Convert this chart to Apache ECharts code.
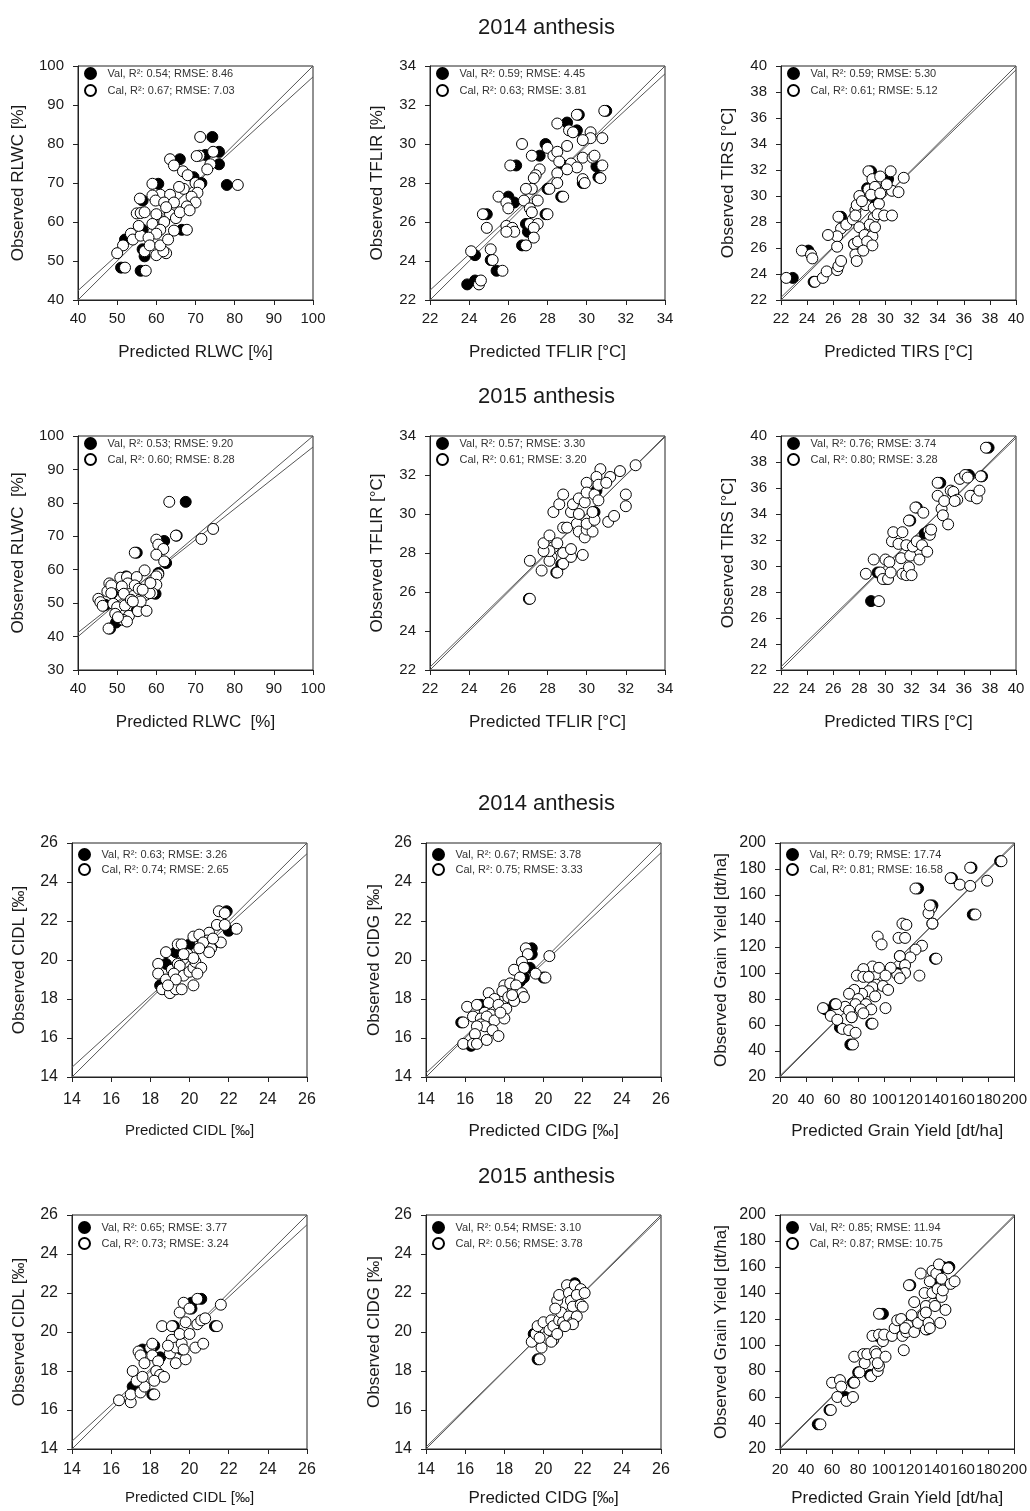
<!DOCTYPE html>
<html>
<head>
<meta charset="utf-8">
<title>Predicted vs observed traits, anthesis 2014 / 2015</title>
<script src="https://cdn.jsdelivr.net/npm/echarts@6/dist/echarts.min.js"></script>
<style>
  html, body { margin: 0; padding: 0; background: #fff; }
  #chart { width: 1030px; height: 1511px; }
</style>
</head>
<body>
<div id="chart"></div>
<script>
// all points are [predicted, observed]

// --- RLWC 2014 ---
const rlwc14Val = [[74.3,81.8],[76,78],[72.5,77.2],[66,76.1],[76,74.8],[78,69.5],[60.5,69.8],[56.5,65.5],[66.5,58],[56.5,58],[52,55.5],[56.5,53],[57,51.2],[51,48.3],[56,47.5],[69.5,71.5],[71.5,70]]
const rlwc14Cal = [[71.2,81.8],[74.5,78],[71,77],[70.3,76.9],[63.5,76.1],[64.5,74.5],[73.8,74.8],[73,73.5],[66.8,73],[68,72],[70,70],[71,69.5],[80.8,69.5],[59,69.8],[67,68.5],[65.8,69],[70.5,67.5],[69,66.5],[55.8,66],[61,67],[59,66.8],[63.5,67],[59.8,65.5],[62,65],[64.5,65],[70,65],[67.8,64],[55,62.2],[56,62.3],[57,62.5],[60,62],[63.5,62],[65,61],[62,60],[59,59.5],[67.8,58],[64.5,57.8],[61,58],[60,57],[53.5,57],[54,55.5],[56,56.5],[58,56],[51.5,54],[50,52],[57,52.5],[60,51.5],[62.5,52],[61.8,52.5],[58.3,54],[61,54],[52,48.3],[57.3,47.5],[55.5,59],[63,55.5],[66,62.5],[68.5,63],[62.5,63.8]]
const rlwc14Fit = [[40,42.4],[100,97.2]]
const rlwc14Diag = [[40,40],[100,100]]

// --- TFLIR 2014 ---
const tflir14Val = [[31,31.7],[29.6,31.5],[29,31.1],[29.5,30.7],[27.9,30],[27.6,29.4],[28.8,28.9],[30.5,28.85],[26.4,28.9],[29.8,28],[30.6,28.3],[28,27.7],[26,27.3],[26.3,27],[28.7,27.3],[24.9,26.4],[27.9,26.4],[26.9,25.9],[27,25.5],[26.7,24.8],[24.3,24.3],[25.1,24.05],[25.4,23.5],[23.9,22.8],[24.3,23]]
const tflir14Cal = [[30.9,31.7],[29.5,31.5],[28.5,31.05],[29.1,30.7],[29.3,30.6],[30.2,30.6],[30.2,30.3],[30.8,30.3],[29.8,30.2],[29,29.9],[26.7,30],[28,29.8],[28.3,29.4],[28.5,29.6],[27.2,29.4],[29.2,29],[28.6,29.1],[29.8,29.3],[30.3,29.3],[30.4,29.4],[30.8,28.9],[29.5,28.8],[29,28.7],[26.1,28.9],[27.6,28.7],[27.4,28.4],[27.3,28.25],[28.5,28.5],[29.8,28.2],[29.9,28],[30.7,28.25],[28.5,28],[28.1,27.7],[27.2,27.7],[26.9,27.7],[25.5,27.3],[25.9,27],[28.8,27.3],[27.5,27.1],[26.8,27.1],[26,26.7],[27.1,26.7],[27.2,26.5],[24.7,26.4],[28,26.4],[27.1,25.9],[27.5,25.9],[25.9,25.8],[26.2,25.7],[24.9,25.7],[26.3,25.5],[25.9,25.5],[27.3,25.7],[27.3,25.2],[26.9,24.8],[24.1,24.5],[25.1,24.6],[25.2,24.05],[25.7,23.5],[24.5,22.8],[24.6,23]]
const tflir14Fit = [[22,22.5],[34,33.6]]
const tflir14Diag = [[22,22],[34,34]]

// --- TIRS 2014 ---
const tirs14Val = [[22.9,23.7],[24.1,25.8],[24.5,23.4],[26.6,28.4],[27.6,26.3],[28.6,30.6],[28.9,31.9],[30.2,31.3],[29.3,29.6]]
const tirs14Cal = [[22.4,23.7],[23.6,25.8],[24.3,25.5],[24.4,25.2],[24.6,23.4],[25.2,23.7],[25.5,24.2],[26.3,24.3],[26.4,24.6],[26.6,25],[26.4,28.4],[26.6,27.5],[26.3,26.9],[26.3,26.1],[25.6,27],[27,27.8],[27.5,28.2],[27.7,28.9],[27.8,29.3],[27.6,26.3],[27.7,25.5],[27.8,25],[27.9,26.5],[28,27.6],[28.4,27],[28,30],[28.5,29.3],[28.7,30.5],[28.7,31.9],[29,31.3],[29.6,31.5],[29.9,30.6],[30.4,31.9],[29.2,30.7],[28.9,30.1],[29.1,29.1],[29.5,29.4],[29.1,28.3],[28.8,27.8],[29,26.9],[28.6,26.5],[29.2,27.6],[29.4,28.6],[29.9,28.5],[30.5,28.5],[30.5,30.4],[31,30.3],[31.4,31.4],[30.1,30.9],[28.3,25.8],[29,26.2],[27.7,28.5],[29.6,30.2],[28.2,29.6]]
const tirs14Fit = [[22,22.2],[40,39.7]]
const tirs14Diag = [[22,22],[40,40]]

// --- RLWC 2015 ---
const rlwc15Val = [[67.5,80.3],[65.2,70.2],[62,68.6],[55,65.1],[62.5,62],[60.5,59],[59.8,52.8],[52.3,58],[47,49.5],[48.7,53],[49.7,44.2],[48.2,42.4],[55,47.8]]
const rlwc15Cal = [[63.3,80.3],[74.5,72.2],[71.5,69.2],[65,70.2],[60,69],[60.5,67.5],[61.8,66.2],[54.5,65.1],[60,64.5],[62,62.5],[57,59.8],[60.5,58.6],[60,58],[60,55.5],[59,53],[50.8,57.6],[52.5,57.8],[55,57.8],[48,55.9],[47.5,53.5],[48.5,55.3],[52.7,55.9],[51.2,55],[54.5,55.3],[55.5,54.3],[55.8,51],[57.3,52.5],[58.3,53],[45.2,51.3],[45.7,50.3],[46.3,49.2],[49,49.8],[50,48.8],[52,49.3],[51.7,52.8],[53.5,51],[48.5,53],[49.5,46.8],[53,46.2],[51.5,45],[52.5,44.5],[50.2,45.8],[47.8,42.4],[55.3,47.6],[57.5,47.7],[56,50.5],[54,50.5],[58.5,56],[56.5,54]]
const rlwc15Fit = [[40,41.2],[100,96.7]]
const rlwc15Diag = [[40,40],[100,100]]

// --- TFLIR 2015 ---
const tflir15Val = [[27.05,25.65],[28.45,27],[28.7,27.4],[30.4,30.1],[30.5,31.2]]
const tflir15Cal = [[27.1,25.65],[27.1,27.6],[27.7,27.1],[28.5,27],[28.8,27.45],[29.2,27.8],[29.8,27.9],[28.2,27.8],[28.1,27.6],[28.3,28.3],[28.1,28.1],[27.8,28.1],[27.8,28.5],[28.1,28.9],[28.5,28.5],[28.8,28],[29.2,28.2],[28.8,29.3],[29,29.3],[29.5,29.5],[29.6,29.1],[29.9,28.8],[30,29.2],[30.3,29.1],[30,29.5],[30.4,29.7],[28.3,30.1],[28.6,30.5],[28.8,31],[29.2,30.1],[29.3,30.5],[29.6,30],[29.6,30.8],[29.9,30.6],[30,31.6],[30,31.1],[30.4,31],[30.7,32.3],[30.5,31.9],[30.6,31.5],[30.6,30.7],[30.3,30.1],[31.1,29.6],[31.4,29.9],[31.2,31.9],[31,31.6],[31.7,32.2],[32,31],[32,30.4],[32.5,32.5]]
const tflir15Fit = [[22,22.15],[34,33.95]]
const tflir15Diag = [[22,22],[34,34]]

// --- TIRS 2015 ---
const tirs15Val = [[28.9,27.3],[29.4,29.5],[30,29],[31.9,33.5],[32.4,34.5],[34.2,36.4],[36.4,37],[36.7,35.4],[37.4,36.9],[37.9,39.1],[33,32.5]]
const tirs15Cal = [[29.5,27.3],[28.5,29.4],[29.1,30.5],[29.6,29.5],[29.8,29],[30.2,29],[30,30.5],[30.3,30.3],[30.4,29.5],[30.5,31.9],[30.6,32.6],[31,31.7],[31.2,30.6],[31.3,32.6],[31.6,31.6],[31.3,29.4],[31.6,29.3],[31.8,29.9],[32,29.3],[31.9,30.8],[32.1,31.5],[32.4,31.9],[32.6,30.5],[32.8,31.6],[31.8,33.5],[32.3,34.5],[32.9,34.1],[33.3,32.7],[33.4,32.4],[33.2,31.1],[33.5,32.8],[34,36.4],[34,35.4],[34.3,34.4],[34.4,33.9],[34.5,35],[34.8,33.2],[35,35.8],[35.2,35.7],[35.5,35.1],[35.3,35],[35.7,36.7],[36.1,37],[36.5,35.4],[37,35.2],[37.2,35.8],[37.3,36.9],[37.7,39.1],[36.3,36.8]]
const tirs15Fit = [[22,22.25],[40,39.85]]
const tirs15Diag = [[22,22],[40,40]]

// --- CIDL 2014 ---
const cidl14Val = [[21.9,22.5],[22,21.5],[21.3,20.9],[20,20.8],[19.3,20.4],[18.8,19.8],[18.5,18.7],[20.5,21.2]]
const cidl14Cal = [[21.5,22.5],[21.8,22.4],[21.4,21.8],[21.8,21.8],[22.4,21.6],[21.6,20.9],[21,21.4],[20.9,21],[21.1,20.6],[21,20.4],[20.2,21.2],[20.5,21.3],[20.7,20.9],[20.5,20.6],[19.4,20.8],[19.6,20.8],[18.8,20.4],[18.4,19.8],[18.4,19.3],[18.8,19],[19.1,19.5],[19.4,19.8],[19.5,19.7],[19.2,19.3],[19.7,19.2],[20,19.4],[20.2,19.6],[20.3,19.9],[20.6,19.6],[20.4,19.3],[18.6,18.5],[19,18.3],[19.3,18.5],[19.6,18.5],[19.3,19],[18.9,18.7],[20.2,18.7],[19.9,20.3],[20.2,20.1],[19.7,20.3],[21.2,21.1]]
const cidl14Fit = [[14,14.5],[26,25.45]]
const cidl14Diag = [[14,14],[26,26]]

// --- CIDG 2014 ---
const cidg14Val = [[19.4,20.6],[19.4,20.3],[19.3,19.6],[19,19.1],[20,19.1],[16.8,17.7],[15.8,16.8],[16.3,15.6],[18.8,18.9]]
const cidg14Cal = [[19.1,20.6],[19.2,20.3],[20.3,20.2],[18.9,19.9],[18.5,19.5],[19,19.6],[18.8,19.1],[19.6,19.3],[20.1,19.1],[18,18.7],[18.3,18.8],[18.6,18.7],[17.9,18.4],[18.2,18.1],[17.2,18.3],[17.5,18],[18.6,18.2],[18.9,18.3],[19,18.1],[18.5,17.9],[17.2,17.8],[17.7,17.7],[18.1,17.5],[17,17.3],[16.1,17.6],[16.6,17.7],[16.4,17.1],[16.8,17],[17.3,17.2],[17.1,17.1],[16.8,16.7],[17,16.6],[17.5,16.9],[18,17],[15.9,16.8],[16.6,16.6],[16.5,16.2],[17.4,16.4],[17.7,16.1],[15.9,15.7],[16.4,15.7],[16.6,15.7],[17.1,15.9],[17.8,17.3],[18.4,18.2]]
const cidg14Fit = [[14,14.2],[26,25.5]]
const cidg14Diag = [[14,14],[26,26]]

// --- Grain yield 2014 ---
const yield14Val = [[189,186],[167,181],[152,173],[126,165],[137,152],[168,145],[137,138],[139,111],[112,113],[75,66],[62,76],[55,72],[66,58],[74,45],[90,61],[110,100]]
const yield14Cal = [[190,186],[166,181],[179,171],[158,168],[166,167],[151,173],[124,165],[136,150],[134,146],[135,152],[170,145],[137,138],[114,138],[117,137],[95,128],[98,122],[111,127],[116,127],[129,121],[124,118],[120,112],[140,111],[112,113],[116,106],[127,98],[116,100],[110,99],[112,96],[91,105],[96,104],[105,104],[101,98],[84,103],[79,98],[84,97],[88,97],[94,91],[91,89],[99,90],[103,87],[88,86],[83,84],[77,87],[73,84],[80,80],[78,76],[86,76],[90,72],[101,73],[70,74],[73,71],[75,66],[63,76],[53,73],[59,67],[64,64],[68,57],[73,56],[78,54],[76,45],[91,61],[82,72],[84,69],[93,82]]
const yield14Fit = [[20,21],[200,199]]
const yield14Diag = [[20,20],[200,200]]

// --- CIDL 2015 ---
const cidl15Val = [[17.1,17.2],[18.1,16.8],[17.6,19.1],[18.2,19.3],[19.2,20.3],[20.1,21.5],[20.1,21.2],[20.6,21.7],[21.3,20.3],[18.5,18.7],[19.6,19.1]]
const cidl15Cal = [[16.4,16.5],[17,16.4],[17,16.8],[17.5,16.9],[17.7,17.2],[17.3,17.5],[17.1,18],[17.6,17.7],[18.2,16.8],[17.4,19],[17.5,18.8],[17.7,18.4],[18,19.2],[18.1,19.4],[18.1,18.8],[18.4,18.5],[18.3,18],[18.5,17.8],[18.2,17.5],[18.7,17.7],[18.6,20.3],[19.1,19.6],[19.1,20.3],[19.3,18.4],[19,18.9],[19.3,19.2],[19.6,19.4],[19.8,18.6],[19.5,19.9],[19.8,20.5],[19.5,21],[19.7,21.5],[20,21.2],[20,19.9],[20.4,20.4],[20.3,19.2],[20.6,20.6],[20.7,19.4],[20.4,21.7],[21.4,20.3],[21.6,21.4],[19.7,19.1],[20.8,20.7],[18.9,19.3]]
const cidl15Fit = [[14,14.4],[26,25.5]]
const cidl15Diag = [[14,14],[26,26]]

// --- CIDG 2015 ---
const cidg15Val = [[19.7,18.6],[21.6,22.5],[19.5,19.9]]
const cidg15Cal = [[19.8,18.6],[19.4,19.5],[19.6,19.9],[19.9,19.2],[19.8,19.7],[19.7,20.3],[20,20.5],[20.3,20.1],[20.4,20.6],[20.5,20.3],[20.5,19.6],[20.4,19.5],[20.7,19.9],[20.8,20.6],[20.9,21],[20.7,21.6],[20.8,21.9],[21,20.5],[21.2,22.4],[21.3,22],[21.4,21.6],[21.5,21.3],[21.3,20.8],[21.5,20.5],[21.6,22.4],[21.9,22.2],[21.7,21.9],[22.1,22],[21.9,21.4],[22,21.3],[21.7,20.8],[21.5,20.4],[21.1,20.3],[20.6,21.2]]
const cidg15Fit = [[14,14.1],[26,25.9]]
const cidg15Diag = [[14,14],[26,26]]

// --- Grain yield 2015 ---
const yield15Val = [[49,39],[58,50],[70,60],[76,71],[80,79],[89,77],[99,124],[120,146],[133,112],[137,150],[138,140],[145,160],[150,160],[95,107]]
const yield15Cal = [[51,39],[59,50],[60,71],[66,73],[67,68],[64,60],[71,57],[76,60],[77,71],[77,91],[81,79],[84,93],[85,86],[90,76],[87,93],[91,107],[93,95],[94,93],[95,80],[96,84],[95,86],[96,124],[96,108],[99,103],[100,108],[101,91],[106,107],[108,113],[110,119],[113,120],[115,96],[114,107],[117,110],[118,115],[116,113],[119,146],[121,123],[123,133],[123,110],[126,117],[128,155],[130,123],[131,140],[132,130],[132,125],[132,112],[134,117],[135,113],[137,157],[135,149],[137,140],[139,130],[140,155],[142,162],[141,143],[144,137],[143,117],[144,151],[145,142],[147,127],[149,159],[151,147],[154,149]]
const yield15Fit = [[20,21],[200,199]]
const yield15Diag = [[20,20],[200,200]]

// axis ranges [min, max, step]
const rlwcX = [40, 100, 10]
const rlwc14Y = [40, 100, 10]
const rlwc15Y = [30, 100, 10]
const tflirAx = [22, 34, 2]
const tirsAx = [22, 40, 2]
const cidAx = [14, 26, 2]
const yieldAx = [20, 200, 20]

const titles = ['2014 anthesis', '2015 anthesis', '2014 anthesis', '2015 anthesis']

const panels = [
  { val: rlwc14Val, cal: rlwc14Cal, fit: rlwc14Fit, diag: rlwc14Diag, x: rlwcX, y: rlwc14Y,
    xName: 'Predicted RLWC [%]', yName: 'Observed RLWC [%]',
    valName: 'Val, R²: 0.54; RMSE: 8.46', calName: 'Cal, R²: 0.67; RMSE: 7.03' },
  { val: tflir14Val, cal: tflir14Cal, fit: tflir14Fit, diag: tflir14Diag, x: tflirAx, y: tflirAx,
    xName: 'Predicted TFLIR [°C]', yName: 'Observed TFLIR [%]',
    valName: 'Val, R²: 0.59; RMSE: 4.45', calName: 'Cal, R²: 0.63; RMSE: 3.81' },
  { val: tirs14Val, cal: tirs14Cal, fit: tirs14Fit, diag: tirs14Diag, x: tirsAx, y: tirsAx,
    xName: 'Predicted TIRS [°C]', yName: 'Observed TIRS [°C]',
    valName: 'Val, R²: 0.59; RMSE: 5.30', calName: 'Cal, R²: 0.61; RMSE: 5.12' },
  { val: rlwc15Val, cal: rlwc15Cal, fit: rlwc15Fit, diag: rlwc15Diag, x: rlwcX, y: rlwc15Y,
    xName: 'Predicted RLWC  [%]', yName: 'Observed RLWC  [%]',
    valName: 'Val, R²: 0.53; RMSE: 9.20', calName: 'Cal, R²: 0.60; RMSE: 8.28' },
  { val: tflir15Val, cal: tflir15Cal, fit: tflir15Fit, diag: tflir15Diag, x: tflirAx, y: tflirAx,
    xName: 'Predicted TFLIR [°C]', yName: 'Observed TFLIR [°C]',
    valName: 'Val, R²: 0.57; RMSE: 3.30', calName: 'Cal, R²: 0.61; RMSE: 3.20' },
  { val: tirs15Val, cal: tirs15Cal, fit: tirs15Fit, diag: tirs15Diag, x: tirsAx, y: tirsAx,
    xName: 'Predicted TIRS [°C]', yName: 'Observed TIRS [°C]',
    valName: 'Val, R²: 0.76; RMSE: 3.74', calName: 'Cal, R²: 0.80; RMSE: 3.28' },
  { val: cidl14Val, cal: cidl14Cal, fit: cidl14Fit, diag: cidl14Diag, x: cidAx, y: cidAx,
    xName: 'Predicted CIDL [‰]', yName: 'Observed CIDL [‰]',
    valName: 'Val, R²: 0.63; RMSE: 3.26', calName: 'Cal, R²: 0.74; RMSE: 2.65' },
  { val: cidg14Val, cal: cidg14Cal, fit: cidg14Fit, diag: cidg14Diag, x: cidAx, y: cidAx,
    xName: 'Predicted CIDG [‰]', yName: 'Observed CIDG [‰]',
    valName: 'Val, R²: 0.67; RMSE: 3.78', calName: 'Cal, R²: 0.75; RMSE: 3.33' },
  { val: yield14Val, cal: yield14Cal, fit: yield14Fit, diag: yield14Diag, x: yieldAx, y: yieldAx,
    xName: 'Predicted Grain Yield [dt/ha]', yName: 'Observed Grain Yield [dt/ha]',
    valName: 'Val, R²: 0.79; RMSE: 17.74', calName: 'Cal, R²: 0.81; RMSE: 16.58' },
  { val: cidl15Val, cal: cidl15Cal, fit: cidl15Fit, diag: cidl15Diag, x: cidAx, y: cidAx,
    xName: 'Predicted CIDL [‰]', yName: 'Observed CIDL [‰]',
    valName: 'Val, R²: 0.65; RMSE: 3.77', calName: 'Cal, R²: 0.73; RMSE: 3.24' },
  { val: cidg15Val, cal: cidg15Cal, fit: cidg15Fit, diag: cidg15Diag, x: cidAx, y: cidAx,
    xName: 'Predicted CIDG [‰]', yName: 'Observed CIDG [‰]',
    valName: 'Val, R²: 0.54; RMSE: 3.10', calName: 'Cal, R²: 0.56; RMSE: 3.78' },
  { val: yield15Val, cal: yield15Cal, fit: yield15Fit, diag: yield15Diag, x: yieldAx, y: yieldAx,
    xName: 'Predicted Grain Yield [dt/ha]', yName: 'Observed Grain Yield [dt/ha]',
    valName: 'Val, R²: 0.85; RMSE: 11.94', calName: 'Cal, R²: 0.87; RMSE: 10.75' },
]

// ---- layout (pixels) ----
const FONT = '"Liberation Sans", Arial, sans-serif'
const INK = '#1a1a1a'
const rowTop = [66, 436, 843, 1215]
const colLeft = [[78, 430, 781], [78, 430, 781], [72, 426, 780], [72, 426, 780]]
const titleTop = [17, 386, 793, 1166]
const tickFont = [15, 15, 16, 16]
const xLabelMargin = [11, 11, 15, 13]
const xNameGap = [44, 44, 46, 41]
const yNameGap = [51, 44, 44, 51, 44, 44, 44, 43, 50, 44, 43, 50]
// the CIDL x titles are set smaller than the rest
const xNameSize = [17, 17, 17, 17, 17, 17, 15, 17, 17, 15, 17, 17]
// yield x labels sit shoulder to shoulder, a hair smaller so none gets dropped
const xTickSize = [15, 15, 15, 15, 15, 15, 16, 16, 15, 16, 16, 15]
const legendDy = [1, 1, 5, 6]
const legendGap = [4, 3, 2, 3]

const PW = 235, PH = 234

const grids = [], xAxes = [], yAxes = [], legends = [], series = []

panels.forEach((p, i) => {
  const r = Math.floor(i / 3), c = i % 3
  const left = colLeft[r][c], top = rowTop[r]

  grids.push({
    left, top, width: PW, height: PH,
    show: true, borderColor: '#222', borderWidth: 1,
    backgroundColor: 'transparent',
  })

  const axisCommon = {
    type: 'value',
    gridIndex: i,
    nameLocation: 'middle',
    axisLine: { show: true, onZero: false, lineStyle: { color: '#222', width: 1 } },
    axisTick: { show: true, length: 5, lineStyle: { color: '#222' } },
    splitLine: { show: false },
  }

  xAxes.push({
    ...axisCommon,
    min: p.x[0], max: p.x[1], interval: p.x[2],
    name: p.xName,
    nameGap: xNameGap[r],
    nameTextStyle: { fontFamily: FONT, fontSize: xNameSize[i], color: INK },
    axisLabel: {
      fontFamily: FONT, fontSize: xTickSize[i], color: INK, margin: xLabelMargin[r],
      showMinLabel: true, showMaxLabel: true, hideOverlap: false,
    },
  })

  yAxes.push({
    ...axisCommon,
    min: p.y[0], max: p.y[1], interval: p.y[2],
    name: p.yName,
    nameGap: yNameGap[i],
    nameTextStyle: { fontFamily: FONT, fontSize: 17, color: INK },
    axisLabel: {
      fontFamily: FONT, fontSize: tickFont[r], color: INK, margin: 14,
      showMinLabel: true, showMaxLabel: true,
    },
  })

  legends.push({
    data: [p.valName, p.calName],
    orient: 'vertical',
    left: left + 6, top: top + legendDy[r],
    padding: 0,
    itemWidth: 24, itemHeight: 11, itemGap: legendGap[r],
    icon: 'circle',
    selectedMode: false,
    textStyle: { fontFamily: FONT, fontSize: 11, color: '#333' },
  })

  const lineCommon = {
    type: 'line', xAxisIndex: i, yAxisIndex: i,
    symbol: 'none', silent: true, z: 1,
    lineStyle: { color: '#555', width: 1 },
  }
  series.push({ ...lineCommon, name: 'diag' + i, data: p.diag })
  series.push({ ...lineCommon, name: 'fit' + i, data: p.fit })

  series.push({
    name: p.valName, type: 'scatter', xAxisIndex: i, yAxisIndex: i,
    symbol: 'circle', symbolSize: 11, z: 3,
    itemStyle: { color: '#000', borderColor: '#000', borderWidth: 1, opacity: 1 },
    emphasis: { disabled: true },
    data: p.val,
  })
  series.push({
    name: p.calName, type: 'scatter', xAxisIndex: i, yAxisIndex: i,
    symbol: 'circle', symbolSize: 11, z: 4,
    itemStyle: { color: '#fff', borderColor: '#000', borderWidth: 1, opacity: 1 },
    emphasis: { disabled: true },
    data: p.cal,
  })
})

const chart = echarts.init(document.getElementById('chart'), null, { renderer: 'canvas' })
chart.setOption({
  animation: false,
  backgroundColor: '#fff',
  title: titles.map((t, k) => ({
    text: t, left: 478, top: titleTop[k], padding: 0,
    textStyle: { fontFamily: FONT, fontSize: 22, fontWeight: 'normal', color: INK },
  })),
  tooltip: { show: false },
  legend: legends,
  grid: grids,
  xAxis: xAxes,
  yAxis: yAxes,
  series,
})
</script>
</body>
</html>
